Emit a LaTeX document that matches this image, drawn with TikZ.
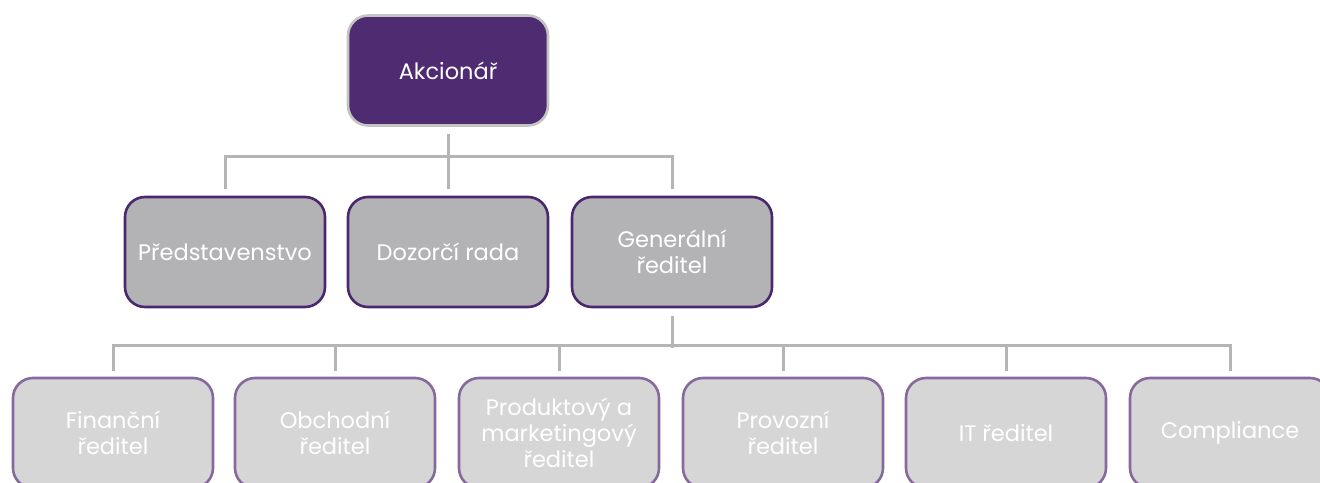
\documentclass[tikz,border=0pt]{standalone}
\usepackage{fontspec}
\setmainfont{Poppins}
\definecolor{toppurple}{HTML}{4F2B71}
\definecolor{topborder}{HTML}{C4C4C4}
\definecolor{midfill}{HTML}{B3B3B5}
\definecolor{midborder}{HTML}{4A2870}
\definecolor{lowfill}{HTML}{D6D6D6}
\definecolor{lowborder}{HTML}{87699D}
\definecolor{connc}{HTML}{B5B5B5}
\tikzset{
  box/.style={rounded corners=20pt, minimum width=200pt, minimum height=110pt, line width=2.6pt,
    align=center, text=white, font=\fontsize{22.5}{26}\selectfont, inner sep=0pt},
  topbox/.style={box, fill=toppurple, draw=topborder},
  midbox/.style={box, fill=midfill, draw=midborder},
  lowbox/.style={box, fill=lowfill, draw=lowborder},
  conn/.style={draw=connc, line width=3pt}
}
\begin{document}
\begin{tikzpicture}[x=1pt,y=-1pt]
\useasboundingbox (0,0) rectangle (1320,482);
\begin{scope}
\clip (0,0) rectangle (1320,482);
\node[topbox] (a) at (448,70.5) {Akcionář};
\node[midbox] (p) at (225,252) {Představenstvo};
\node[midbox] (d) at (448,252) {Dozorčí rada};
\node[midbox] (g) at (672,252) {Generální\\ředitel};
\node[lowbox] (f1) at (113,433) {Finanční\\ředitel};
\node[lowbox] (f2) at (335,433) {Obchodní\\ředitel};
\node[lowbox] (f3) at (559,433) {Produktový a\\marketingový\\ředitel};
\node[lowbox] (f4) at (783,433) {Provozní\\ředitel};
\node[lowbox] (f5) at (1006,433) {IT ředitel};
\node[lowbox] (f6) at (1230,433) {Compliance};
\end{scope}
% first level connectors
\draw[conn] ([yshift=-7pt]a.south) -- ([yshift=7pt]d.north);
\draw[conn] ([yshift=7pt]p.north) -- ++(0,-32) -| ([yshift=7pt]g.north);
% second level connectors
\draw[conn] ([yshift=-8pt]g.south) -- ++(0,32);
\draw[conn] ([yshift=6pt]f1.north) -- ++(0,-25) -| ([yshift=6pt]f6.north);
\draw[conn] ([yshift=6pt]f2.north) -- ++(0,-25);
\draw[conn] ([yshift=6pt]f3.north) -- ++(0,-25);
\draw[conn] ([yshift=6pt]f4.north) -- ++(0,-25);
\draw[conn] ([yshift=6pt]f5.north) -- ++(0,-25);
\end{tikzpicture}
\end{document}
